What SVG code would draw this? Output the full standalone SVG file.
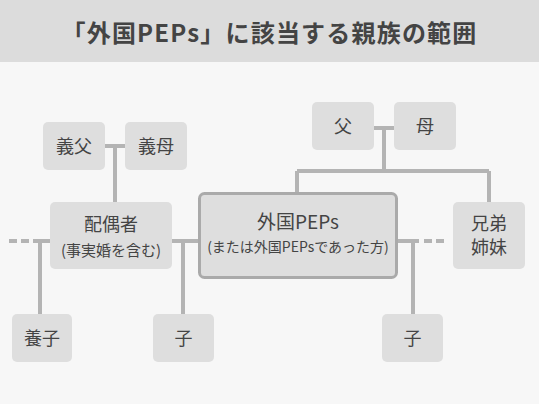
<svg xmlns="http://www.w3.org/2000/svg" width="539" height="404" viewBox="0 0 539 404">
<style>
.n{fill:#dedede}
.t{font-family:"Noto Sans CJK JP","Noto Sans",sans-serif;fill:#444;text-anchor:middle}
.l{stroke:#b4b4b4;stroke-width:4;fill:none}
.d{stroke-dasharray:8,4}
</style>
<rect x="0" y="0" width="539" height="404" fill="#f7f7f7"/>
<rect x="0" y="0" width="539" height="62" fill="#dcdcdc"/>
<text x="269.5" y="42" class="t" font-size="24" font-weight="bold" letter-spacing="1.2">「外国PEPs」に該当する親族の範囲</text>
<g id="connectors">
<path class="l" d="M105 146H125M115 146V202"/>
<path class="l" d="M374 128H394M384 128V171M297 171H489M297 171V193M489 171V202"/>
<path class="l d" d="M9 241H29"/>
<path class="l" d="M33 241H50M40 241V316"/>
<path class="l" d="M172 241H198M183 241V316"/>
<path class="l" d="M398 241H419M413 241V316"/>
<path class="l d" d="M424 241H444"/>
</g>
<g id="giFu"><rect class="n" x="43" y="122" width="62" height="48" rx="5"/><text class="t" x="74" y="153" font-size="18">義父</text></g>
<g id="giBo"><rect class="n" x="125" y="122" width="62" height="48" rx="5"/><text class="t" x="156" y="153" font-size="18">義母</text></g>
<g id="chichi"><rect class="n" x="312" y="102" width="62" height="48" rx="5"/><text class="t" x="343" y="133" font-size="18">父</text></g>
<g id="haha"><rect class="n" x="394" y="102" width="62" height="48" rx="5"/><text class="t" x="425" y="133" font-size="18">母</text></g>
<g id="haiguusha"><rect class="n" x="50" y="202" width="122" height="67" rx="5"/><text class="t" x="111" y="231" font-size="18">配偶者</text><text class="t" x="111" y="256" font-size="15">(事実婚を含む)</text></g>
<g id="main"><rect class="n" x="199.5" y="193.5" width="197" height="84" rx="5" stroke="#aaa" stroke-width="3"/><text class="t" x="298" y="229" font-size="19">外国PEPs</text><text class="t" x="298" y="252" font-size="14">(または外国PEPsであった方)</text></g>
<g id="kyoudai"><rect class="n" x="453" y="202" width="72" height="67" rx="5"/><text class="t" x="489" y="230" font-size="18">兄弟</text><text class="t" x="489" y="254" font-size="18">姉妹</text></g>
<g id="youshi"><rect class="n" x="12" y="314" width="60" height="48" rx="5"/><text class="t" x="42" y="345" font-size="18">養子</text></g>
<g id="ko1"><rect class="n" x="153" y="314" width="61" height="48" rx="5"/><text class="t" x="183.5" y="345" font-size="18">子</text></g>
<g id="ko2"><rect class="n" x="382" y="314" width="61" height="48" rx="5"/><text class="t" x="412.5" y="345" font-size="18">子</text></g>
</svg>
